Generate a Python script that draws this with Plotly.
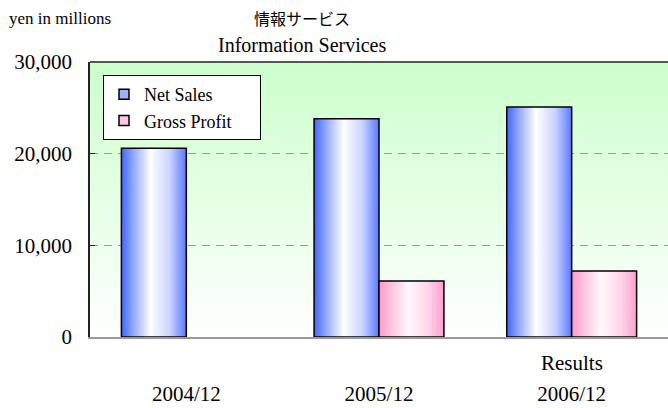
import base64
import plotly.graph_objects as go

categories = ["2004/12", "2005/12", "2006/12"]
net_sales = [20600, 23800, 25100]
gross_profit = [None, 6100, 7200]
y_ticks = [0, 10000, 20000, 30000]
y_tick_labels = ["0", "10,000", "20,000", "30,000"]
series_names = ["Net Sales", "Gross Profit"]

SERIF = "Liberation Serif"
JP = "Noto Sans CJK JP"
BAR_W = 0.337
PAD = "\u00a0" * 5

blue_scale = [[0, "#4066ff"], [0.18, "#90a6ff"], [0.45, "#ffffff"], [0.75, "#c8d2ff"], [1, "#5a78ff"]]
pink_scale = [[0, "#ff99cc"], [0.2, "#ffc6e0"], [0.45, "#fff8fc"], [0.75, "#ffd6ea"], [1, "#ff9fcf"]]

fig = go.Figure()


def add_bar(idx, value, left, scale):
    if value is None:
        return
    x0 = idx - BAR_W if left else idx
    x1 = x0 + BAR_W
    fig.add_trace(go.Scatter(
        x=[x0, x0, x1, x1, x0], y=[0, value, value, 0, 0],
        mode="lines", fill="toself",
        fillgradient=dict(type="horizontal", colorscale=scale),
        line=dict(color="#000000", width=1.5),
        showlegend=False, hoverinfo="skip"))


for i, v in enumerate(net_sales):
    add_bar(i, v, True, blue_scale)
for i, v in enumerate(gross_profit):
    add_bar(i, v, False, pink_scale)

# legend entries
fig.add_trace(go.Scatter(x=[None], y=[None], mode="markers", name=series_names[0] + PAD,
                         marker=dict(symbol="square", size=10, color="#9fb2ff",
                                     line=dict(color="#000000", width=1.5))))
fig.add_trace(go.Scatter(x=[None], y=[None], mode="markers", name=series_names[1] + PAD,
                         marker=dict(symbol="square", size=10, color="#ffc8e2",
                                     line=dict(color="#000000", width=1.5))))

svg = ('<svg xmlns="http://www.w3.org/2000/svg" width="100" height="100" preserveAspectRatio="none">'
       '<defs><linearGradient id="g" x1="0" y1="0" x2="0" y2="1">'
       '<stop offset="0" stop-color="#ccffcc"/><stop offset="1" stop-color="#ffffff"/>'
       '</linearGradient></defs><rect width="100" height="100" fill="url(#g)"/></svg>')
bg_src = "data:image/svg+xml;base64," + base64.b64encode(svg.encode()).decode()

fig.update_layout(
    width=668, height=408,
    margin=dict(l=90, r=0, t=62, b=71),
    paper_bgcolor="#ffffff",
    plot_bgcolor="rgba(0,0,0,0)",
    font=dict(family=SERIF, size=20, color="#000000"),
    images=[dict(source=bg_src, xref="paper", yref="paper", x=0, y=1, sizex=1, sizey=1,
                 sizing="stretch", layer="below", xanchor="left", yanchor="top")],
    xaxis=dict(range=[-0.5, 2.5], tickvals=list(range(len(categories))), ticktext=categories,
               showgrid=False, zeroline=False, showline=True, linecolor="#999999", linewidth=1.5,
               ticks="", tickfont=dict(size=21, family=SERIF), ticklabelstandoff=37,
               fixedrange=True),
    yaxis=dict(range=[0, 30000], tickvals=y_ticks, ticktext=y_tick_labels,
               showgrid=True, gridcolor="#999999", griddash="8px,6px", gridwidth=1,
               zeroline=False, showline=True, linecolor="#222222", linewidth=1.5,
               ticks="inside", ticklen=5, tickcolor="#222222",
               tickfont=dict(size=21, family=SERIF), ticklabelstandoff=12, fixedrange=True),
    legend=dict(x=0.0225, y=0.953, xanchor="left", yanchor="top",
                bgcolor="#ffffff", bordercolor="#000000", borderwidth=1,
                font=dict(size=18, family=SERIF), tracegroupgap=0, itemwidth=30),
    shapes=[dict(type="line", xref="paper", yref="paper", x0=0, x1=1, y0=1, y1=1,
                 line=dict(color="#555555", width=2))],
    annotations=[
        dict(text="yen in millions", xref="paper", yref="paper", x=-0.1436, y=1.16,
             xanchor="left", yanchor="middle", showarrow=False,
             font=dict(size=17, family=SERIF)),
        dict(text="情報サービス", xref="paper", yref="paper", x=0.3668, y=1.16,
             xanchor="center", yanchor="middle", showarrow=False,
             font=dict(size=16, family=JP)),
        dict(text="Information Services", xref="paper", yref="paper", x=0.3668, y=1.0618,
             xanchor="center", yanchor="middle", showarrow=False,
             font=dict(size=20, family=SERIF)),
        dict(text="Results", xref="x", yref="paper", x=2, y=-0.0945,
             xanchor="center", yanchor="middle", showarrow=False,
             font=dict(size=21, family=SERIF)),
    ],
)

fig.write_html("out.html", config={"displayModeBar": False},
               post_script="document.body.style.margin='0';")
